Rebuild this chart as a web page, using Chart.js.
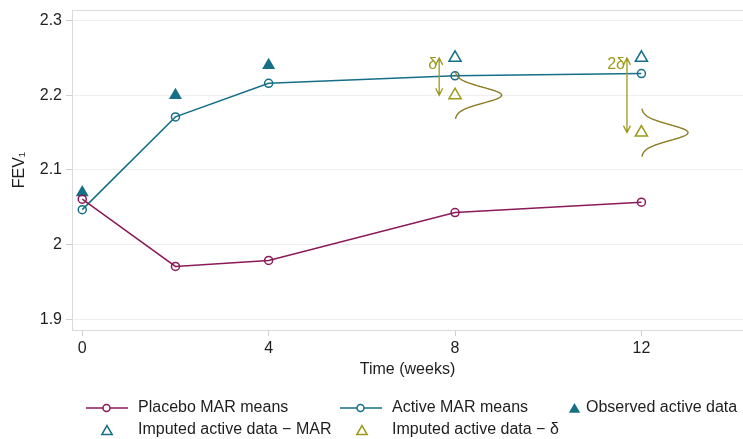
<!DOCTYPE html>
<html>
<head>
<meta charset="utf-8">
<script src="https://cdn.jsdelivr.net/npm/chart.js@4.4.1/dist/chart.umd.min.js"></script>
<style>
  body { margin: 0; background: #fff; }
  #wrap { width: 743px; height: 439px; }
</style>
</head>
<body>
<div id="wrap"><canvas id="fevChart" width="743" height="439"></canvas></div>
<script>
  // data
  const weeks = [0, 2, 4, 8, 12];
  const placeboMeans = [2.061, 1.971, 1.979, 2.043, 2.057];
  const activeMeans = [2.047, 2.171, 2.216, 2.226, 2.229];
  const observedWeeks = [0, 2, 4];
  const observedActive = [2.07, 2.20, 2.24];
  const imputedWeeks = [8, 12];
  const imputedMAR = [2.25, 2.25];
  const imputedDelta = [2.20, 2.15];
  const xTicks = [0, 4, 8, 12];
  const yTicks = [1.9, 2.0, 2.1, 2.2, 2.3];

  // the delta annotations
  const arrowWeeks = [7.66, 11.69];
  const arrowLabels = ['δ', '2δ'];
  const curveSd = [0.0105, 0.0107];
  const curvePeak = 1.0; // in weeks

  const maroon = '#8a1a5a';
  const teal = '#156f88';
  const olive = '#9c9a1c';
  const curveCol = '#8e7c24';
  const textCol = '#1e1e1e';

  Chart.defaults.font.family = "'Liberation Sans', Arial, sans-serif";
  Chart.defaults.font.size = 16;
  Chart.defaults.color = textCol;

  const pts = (xs, ys) => xs.map((x, i) => ({x: x, y: ys[i]}));

  function triangle(ctx, x, y, r, fill, col) {
    ctx.beginPath();
    ctx.moveTo(x, y - r);
    ctx.lineTo(x + r * 0.866, y + r / 2);
    ctx.lineTo(x - r * 0.866, y + r / 2);
    ctx.closePath();
    if (fill) { ctx.fillStyle = col; ctx.fill(); }
    else { ctx.strokeStyle = col; ctx.lineWidth = 1.5; ctx.stroke(); }
  }

  const extras = {
    id: 'extras',
    afterDatasetsDraw(chart) {
      const ctx = chart.ctx, xs = chart.scales.x, ys = chart.scales.y;
      ctx.save();
      // arrows with labels
      imputedWeeks.forEach((w, i) => {
        const ax = xs.getPixelForValue(arrowWeeks[i]);
        const top = ys.getPixelForValue(imputedMAR[i]);
        const bot = ys.getPixelForValue(imputedDelta[i]);
        ctx.strokeStyle = olive;
        ctx.lineWidth = 1.3;
        ctx.beginPath();
        ctx.moveTo(ax, top); ctx.lineTo(ax, bot);
        ctx.moveTo(ax - 3.5, top + 7); ctx.lineTo(ax, top); ctx.lineTo(ax + 3.5, top + 7);
        ctx.moveTo(ax - 3.5, bot - 7); ctx.lineTo(ax, bot); ctx.lineTo(ax + 3.5, bot - 7);
        ctx.stroke();
        ctx.fillStyle = olive;
        ctx.font = "16px 'Liberation Sans', Arial, sans-serif";
        ctx.textAlign = 'right';
        ctx.textBaseline = 'middle';
        ctx.fillText(arrowLabels[i], ax - 2, top + 7);
      });
      // density curves centred on the delta-imputed values
      imputedWeeks.forEach((w, i) => {
        ctx.strokeStyle = curveCol;
        ctx.lineWidth = 1.4;
        ctx.beginPath();
        for (let t = -3; t <= 3.0001; t += 0.05) {
          const px = xs.getPixelForValue(w + curvePeak * Math.exp(-t * t / 2));
          const py = ys.getPixelForValue(imputedDelta[i] - t * curveSd[i]);
          if (t === -3) ctx.moveTo(px, py); else ctx.lineTo(px, py);
        }
        ctx.stroke();
      });
      ctx.restore();
    },
    afterDraw(chart) {
      const ctx = chart.ctx, a = chart.chartArea;
      ctx.save();
      ctx.strokeStyle = '#dadada';
      ctx.lineWidth = 1;
      ctx.beginPath();
      ctx.moveTo(a.left, a.top + 0.5); ctx.lineTo(a.right, a.top + 0.5);
      ctx.stroke();

      // legend
      ctx.font = "16px 'Liberation Sans', Arial, sans-serif";
      ctx.textAlign = 'left';
      ctx.textBaseline = 'middle';
      const row1 = 408, row2 = 430;
      [[86, maroon, 'Placebo MAR means'], [340, teal, 'Active MAR means']].forEach(([x0, col, txt]) => {
        ctx.strokeStyle = col;
        ctx.lineWidth = 1.5;
        ctx.beginPath();
        ctx.moveTo(x0, row1); ctx.lineTo(x0 + 17, row1);
        ctx.moveTo(x0 + 24, row1); ctx.lineTo(x0 + 42, row1);
        ctx.stroke();
        ctx.beginPath();
        ctx.arc(x0 + 20.5, row1, 3.5, 0, Math.PI * 2);
        ctx.stroke();
        ctx.fillStyle = textCol;
        ctx.fillText(txt, x0 + 52, row1);
      });
      triangle(ctx, 574.5, row1 + 1.5, 6.5, true, teal);
      ctx.fillStyle = textCol;
      ctx.fillText('Observed active data', 586, row1);
      triangle(ctx, 107, row2 + 1.5, 6, false, teal);
      ctx.fillStyle = textCol;
      ctx.fillText('Imputed active data − MAR', 138, row2);
      triangle(ctx, 362, row2 + 1.5, 6, false, olive);
      ctx.fillStyle = textCol;
      ctx.fillText('Imputed active data − δ', 392, row2);
      ctx.restore();
    }
  };

  const fevChart = new Chart(document.getElementById('fevChart'), {
    type: 'scatter',
    data: {
      datasets: [{
        label: 'Placebo MAR means',
        data: pts(weeks, placeboMeans),
        showLine: true,
        borderColor: maroon,
        borderWidth: 1.5,
        pointStyle: 'circle',
        pointRadius: 4,
        pointBorderWidth: 1.5,
        pointBackgroundColor: 'rgba(0,0,0,0)',
        pointBorderColor: maroon,
      }, {
        label: 'Active MAR means',
        data: pts(weeks, activeMeans),
        showLine: true,
        borderColor: teal,
        borderWidth: 1.5,
        pointStyle: 'circle',
        pointRadius: 4,
        pointBorderWidth: 1.5,
        pointBackgroundColor: 'rgba(0,0,0,0)',
        pointBorderColor: teal,
      }, {
        label: 'Observed active data',
        data: pts(observedWeeks, observedActive),
        pointStyle: 'triangle',
        pointRadius: 7.5,
        pointBorderWidth: 0,
        pointBackgroundColor: teal,
        pointBorderColor: teal,
      }, {
        label: 'Imputed active data − MAR',
        data: pts(imputedWeeks, imputedMAR),
        pointStyle: 'triangle',
        pointRadius: 7,
        pointBorderWidth: 1.5,
        pointBackgroundColor: 'rgba(0,0,0,0)',
        pointBorderColor: teal,
      }, {
        label: 'Imputed active data − δ',
        data: pts(imputedWeeks, imputedDelta),
        pointStyle: 'triangle',
        pointRadius: 7,
        pointBorderWidth: 1.5,
        pointBackgroundColor: 'rgba(0,0,0,0)',
        pointBorderColor: olive,
      }]
    },
    options: {
      responsive: false,
      animation: false,
      events: [],
      layout: { autoPadding: false, padding: { top: 10, right: 0, bottom: 54, left: 0 } },
      plugins: { legend: { display: false }, tooltip: { enabled: false } },
      scales: {
        x: {
          type: 'linear',
          min: -0.22,
          max: 14.18,
          afterBuildTicks: (s) => { s.ticks = xTicks.map(v => ({value: v})); },
          afterFit: (s) => { s.height = 55; s.paddingLeft = 0; s.paddingRight = 0; },
          grid: { drawOnChartArea: false, tickLength: 6, tickColor: '#cfcfcf' },
          border: { color: '#dadada' },
          ticks: { padding: 3, maxRotation: 0, callback: (v) => String(v) },
          title: { display: true, text: 'Time (weeks)', padding: { top: 0, bottom: 6 } }
        },
        y: {
          min: 1.886,
          max: 2.314,
          afterBuildTicks: (s) => { s.ticks = yTicks.map(v => ({value: v})); },
          afterFit: (s) => { s.width = 72; s.paddingTop = 0; s.paddingBottom = 0; },
          grid: { color: '#eeeeee', tickLength: 6, tickColor: '#cfcfcf' },
          border: { color: '#dadada' },
          ticks: { padding: 4, callback: (v) => String(Math.round(v * 10) / 10) },
          title: { display: true, text: 'FEV₁', padding: { top: 10, bottom: 0 } }
        }
      }
    },
    plugins: [extras]
  });
</script>
</body>
</html>
